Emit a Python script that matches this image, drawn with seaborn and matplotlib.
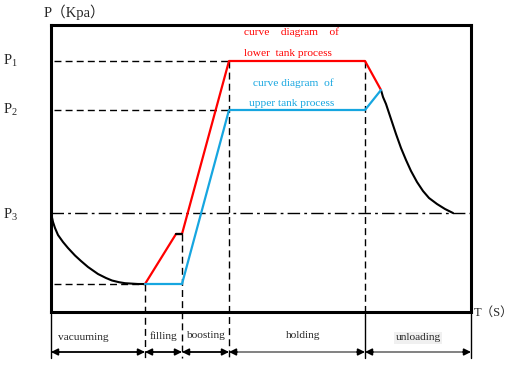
import matplotlib
matplotlib.use("Agg")
import matplotlib.pyplot as plt
import seaborn as sns
import pandas as pd

# phase boundaries along the time axis (box spans 0..420)
phase_edges = [0, 94, 131, 178, 314, 420]
phase_names = ["vacuuming", "filling", "boosting", "holding", "unloading"]

# pressure levels (box spans 0..287)
p1, p2, p3, p_min = 251, 202, 99, 28
p_fill = 78  # lower tank pressure at end of filling

# vacuuming curve (black)
vac_t = [0, 2, 4, 7, 12, 17, 24, 30, 37, 47, 55, 61, 68, 74, 87, 94]
vac_p = [99, 90, 84, 77, 70, 64, 56.5, 51, 45, 38, 34, 31.5, 29.8, 28.8, 28, 28]

# unloading curve (black)
unload_t = [330, 332, 335, 340, 345, 350, 355, 360, 366, 372, 378, 386, 394, 402]
unload_p = [222, 215, 208, 193, 178, 164, 152, 141, 130, 121, 114, 108, 103, 99]

# lower tank (red) and upper tank (blue)
lower_t = [94, 125, 131, 178, 314, 330]
lower_p = [28, p_fill, p_fill, p1, p1, 222]
upper_t = [94, 131, 178, 314, 330]
upper_p = [p_min, p_min, p2, p2, 222]

red = "#FF0000"
blue = "#16A6E0"

sns.set_style("white")
plt.rcParams["font.family"] = ["Liberation Serif", "Noto Sans CJK SC", "DejaVu Sans"]
plt.rcParams["mathtext.fontset"] = "custom"
plt.rcParams["mathtext.rm"] = "Liberation Serif"

fig = plt.figure(figsize=(5.16, 3.77), dpi=100)
ax = fig.add_axes([51 / 516, 65 / 377, 420 / 516, 287 / 377])
ax.set_xlim(0, 420)
ax.set_ylim(0, 287)
ax.set_xticks([])
ax.set_yticks([])
for s in ax.spines.values():
    s.set_linewidth(2.2)
    s.set_color("black")
    s.set_zorder(5)


def seg(t, p, **kw):
    df = pd.DataFrame({"t": t, "p": p})
    sns.lineplot(data=df, x="t", y="p", ax=ax, sort=False, estimator=None, **kw)


dash = (0, (5, 3))
dashdot = (0, (9, 3, 2, 3))
thin = dict(color="black", lw=1, linestyle=dash, clip_on=False)

# guide lines
seg([3, phase_edges[3]], [p1, p1], **thin)
seg([3, phase_edges[3]], [p2, p2], **thin)
seg([3, phase_edges[1]], [p_min, p_min], **thin)
seg([0, 420], [p3, p3], color="black", lw=1, linestyle=dashdot)
seg([phase_edges[1], phase_edges[1]], [p_min, -46], **thin)
seg([phase_edges[2], phase_edges[2]], [p_fill, -46], **thin)
seg([phase_edges[3], phase_edges[3]], [p1, -46], **thin)
seg([phase_edges[4], phase_edges[4]], [p1, 0], **thin)
for x in [phase_edges[0], phase_edges[4], phase_edges[5]]:
    seg([x, x], [-2, -46], color="black", lw=1, clip_on=False)

# process curves
seg(vac_t, vac_p, color="black", lw=1.5)
seg(unload_t, unload_p, color="black", lw=1.5)
seg(lower_t, lower_p, color=red, lw=1.6)
seg(lower_t[1:3], lower_p[1:3], color="black", lw=1.6)
seg(upper_t, upper_p, color=blue, lw=1.6)

# phase arrows and labels
label_y = [-25, -24, -24, -23, -26]
label_dx = [-15, 0, 0, 6, 0]
head = dict(arrowstyle="-|>", color="black", lw=1.2, mutation_scale=10,
            shrinkA=0, shrinkB=0)
for i, name in enumerate(phase_names):
    a, b = phase_edges[i], phase_edges[i + 1]
    shaft = "black" if i < 3 else "#777777"
    seg([a + 2, b - 2], [-40, -40], color=shaft, lw=1.3, clip_on=False)
    ax.annotate("", xy=(a, -40), xytext=(a + 8, -40), annotation_clip=False, arrowprops=head)
    ax.annotate("", xy=(b, -40), xytext=(b - 8, -40), annotation_clip=False, arrowprops=head)
    box = dict(facecolor="#F0F0F0", edgecolor="none", pad=1) if name == "unloading" else None
    ax.text((a + b) / 2 + label_dx[i], label_y[i], name, ha="center",
            va="center", fontsize=8.2, clip_on=False, bbox=box)

# pressure level labels
for lab, y in [("P$_1$", p1), ("P$_2$", p2), ("P$_3$", p3 - 2)]:
    ax.text(-48, y, lab, fontsize=10.5, ha="left", va="center", clip_on=False)
ax.text(-7, 300, "P（Kpa）", fontsize=10.5, ha="left", va="center", clip_on=False)
ax.text(423, -1, "T（S）", fontsize=9, ha="left", va="center", clip_on=False)

# curve notes
ax.text(241, 280, "curve    diagram    of", color=red, fontsize=8.2, ha="center", va="center")
ax.text(237, 259, "lower  tank process", color=red, fontsize=8.2, ha="center", va="center")
ax.text(242, 229, "curve diagram  of", color=blue, fontsize=8.2, ha="center", va="center")
ax.text(241, 208, "upper tank process", color=blue, fontsize=8.2, ha="center", va="center")

fig.savefig("out.png", dpi=100, facecolor="white")
